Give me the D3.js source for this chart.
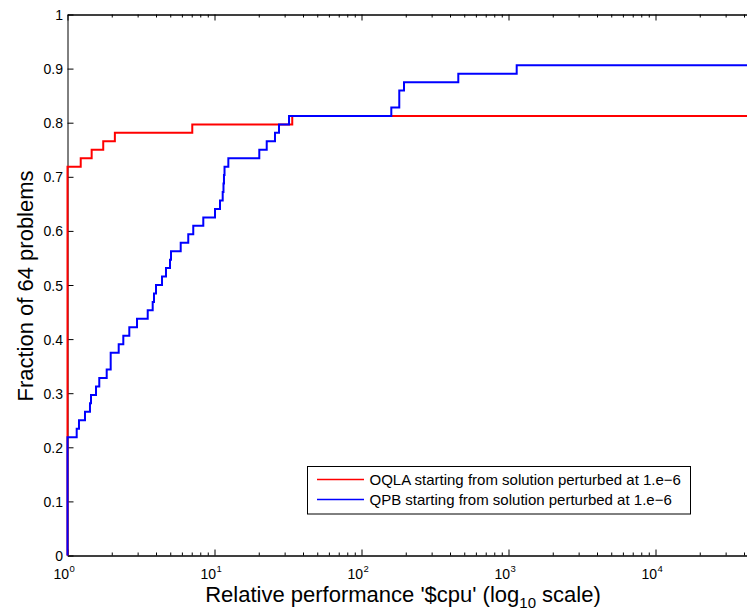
<!DOCTYPE html>
<html>
<head>
<meta charset="utf-8">
<script src="https://cdn.jsdelivr.net/npm/d3@7"></script>
<style>
  html, body { margin: 0; padding: 0; background: #fff; }
  svg { display: block; font-family: "Liberation Sans", Arial, Helvetica, sans-serif; }
</style>
</head>
<body>
<svg id="chart" width="747" height="612"></svg>
<script>
// Performance profile: fraction of the 64 test problems solved within a
// factor tau of the best CPU time, for two solvers.
const nProblems = 64;

// OQLA: distinct performance ratios and number of problems reaching each one
const oqlaRatio = [1, 1.23, 1.46, 1.75, 2.10, 7.06, 33.8];
const oqlaCount = [46, 1, 1, 1, 1, 1, 1];

// QPB: distinct performance ratios and number of problems reaching each one
const qpbRatio = [1, 1.155, 1.197, 1.315, 1.422, 1.445, 1.563, 1.645, 1.848, 1.967,
  2.23, 2.397, 2.633, 2.971, 3.513, 3.798, 3.876, 4.0, 4.395, 4.677,
  4.981, 5.06, 5.89, 6.63, 7.17, 8.39, 10.08, 10.9, 11.37, 11.51,
  11.6, 11.7, 12.42, 20.17, 22.66, 25.79, 27.46, 32.13, 159.5, 180.7,
  194.6, 455.5, 1137];
const qpbCount = [14, 1, 1, 1, 1, 1, 1, 1, 1, 2,
  1, 1, 1, 1, 1, 1, 1, 1, 1, 1,
  1, 1, 1, 1, 1, 1, 1, 1, 1, 1,
  1, 1, 1, 1, 1, 1, 1, 1, 1, 2,
  1, 1, 1];

const xMax = 5e4;
const xTickExp = [0, 1, 2, 3, 4];
const yTicks = [0, 0.1, 0.2, 0.3, 0.4, 0.5, 0.6, 0.7, 0.8, 0.9, 1];

const seriesNames = [
  "OQLA starting from solution perturbed at 1.e\u22126",
  "QPB starting from solution perturbed at 1.e\u22126"
];
const seriesColors = ["#ff0000", "#0000ff"];

const svg = d3.select("#chart");
const plotLeft = 67.5, plotTop = 14.5, plotBottom = 555.5;
const plotRight = plotLeft + 147 * Math.log10(xMax);

const x = d3.scaleLog().domain([1, xMax]).range([plotLeft, plotRight]);
const y = d3.scaleLinear().domain([0, 1]).range([plotBottom, plotTop]);

// minor ticks 2..9 in each decade that falls inside the domain
const minorTicks = [];
for (let e = 0; e <= 4; e++) {
  for (let k = 2; k <= 9; k++) {
    const v = k * Math.pow(10, e);
    if (v < xMax) minorTicks.push(v);
  }
}
const majorTicks = xTickExp.map(e => Math.pow(10, e));

function styleAxis(g) {
  g.selectAll("path, line").attr("stroke", "#000").attr("stroke-width", 1);
  g.selectAll("text").remove();
}

// bottom axis (inward ticks)
svg.append("g").attr("transform", `translate(0,${plotBottom})`)
  .call(d3.axisBottom(x).tickValues(minorTicks).tickSizeInner(-3).tickSizeOuter(0).tickFormat(""))
  .call(styleAxis);
svg.append("g").attr("transform", `translate(0,${plotBottom})`)
  .call(d3.axisBottom(x).tickValues(majorTicks).tickSizeInner(-6).tickSizeOuter(0).tickFormat(""))
  .call(styleAxis);
// top axis
svg.append("g").attr("transform", `translate(0,${plotTop})`)
  .call(d3.axisTop(x).tickValues(minorTicks).tickSizeInner(-3).tickSizeOuter(0).tickFormat(""))
  .call(styleAxis);
svg.append("g").attr("transform", `translate(0,${plotTop})`)
  .call(d3.axisTop(x).tickValues(majorTicks).tickSizeInner(-6).tickSizeOuter(0).tickFormat(""))
  .call(styleAxis);

// left axis
const yAxis = svg.append("g").attr("transform", `translate(${plotLeft},0)`)
  .call(d3.axisLeft(y).tickValues(yTicks).tickSizeInner(-6).tickSizeOuter(0).tickPadding(4.5)
    .tickFormat(d => (d === 0 || d === 1) ? String(d) : d.toFixed(1)));
yAxis.selectAll("path, line").attr("stroke", "#000").attr("stroke-width", 1);
yAxis.selectAll("text").attr("font-size", 14).attr("fill", "#000")
  .attr("font-family", "Liberation Sans, Arial, sans-serif").attr("dy", "0.36em");

// x tick labels as powers of ten: base and raised exponent
const xl = svg.append("g").selectAll("g")
  .data(xTickExp).join("g")
  .attr("transform", e => `translate(${x(Math.pow(10, e))},579)`);
xl.append("text")
  .attr("x", 1.5).attr("text-anchor", "end")
  .attr("font-size", 14).attr("fill", "#000")
  .text("10");
xl.append("text")
  .attr("x", 2).attr("y", -7).attr("text-anchor", "start")
  .attr("font-size", 9.5).attr("fill", "#000")
  .text(e => e);

// step curves
function profile(ratio, count) {
  const pts = [[1, 0]];
  let acc = 0;
  ratio.forEach((r, i) => { acc += count[i]; pts.push([r, acc / nProblems]); });
  pts.push([xMax, acc / nProblems]);
  return pts;
}
const line = d3.line().x(d => x(d[0])).y(d => y(d[1])).curve(d3.curveStepAfter);

const curves = [profile(oqlaRatio, oqlaCount), profile(qpbRatio, qpbCount)];
svg.append("g").selectAll("path")
  .data(curves).join("path")
  .attr("d", line)
  .attr("fill", "none")
  .attr("stroke", (d, i) => seriesColors[i])
  .attr("stroke-width", 2);

// axis titles
const xt = svg.append("text")
  .attr("x", 403).attr("y", 602)
  .attr("text-anchor", "middle")
  .attr("font-size", 22).attr("fill", "#000");
xt.append("tspan").text("Relative performance '$cpu' (log");
xt.append("tspan").attr("font-size", 15).attr("dy", 6).text("10");
xt.append("tspan").attr("dy", -6).text(" scale)");

svg.append("text")
  .attr("transform", `translate(32.5,${(plotTop + plotBottom) / 2 + 1}) rotate(-90)`)
  .attr("text-anchor", "middle")
  .attr("font-size", 22).attr("fill", "#000")
  .text("Fraction of " + nProblems + " problems");

// legend
const lg = svg.append("g");
lg.append("rect")
  .attr("x", 307.5).attr("y", 466.5).attr("width", 383).attr("height", 47.5)
  .attr("fill", "#fff").attr("stroke", "#000").attr("stroke-width", 1);
const items = lg.selectAll("g.item").data(seriesNames).join("g").attr("class", "item")
  .attr("transform", (d, i) => `translate(0,${479.5 + i * 20})`);
items.append("line")
  .attr("x1", 317).attr("x2", 364).attr("y1", 0).attr("y2", 0)
  .attr("stroke", (d, i) => seriesColors[i]).attr("stroke-width", 1.5);
items.append("text")
  .attr("x", 369.5).attr("y", 0).attr("dy", "0.36em")
  .attr("font-size", 15).attr("fill", "#000")
  .text(d => d);
</script>
</body>
</html>
